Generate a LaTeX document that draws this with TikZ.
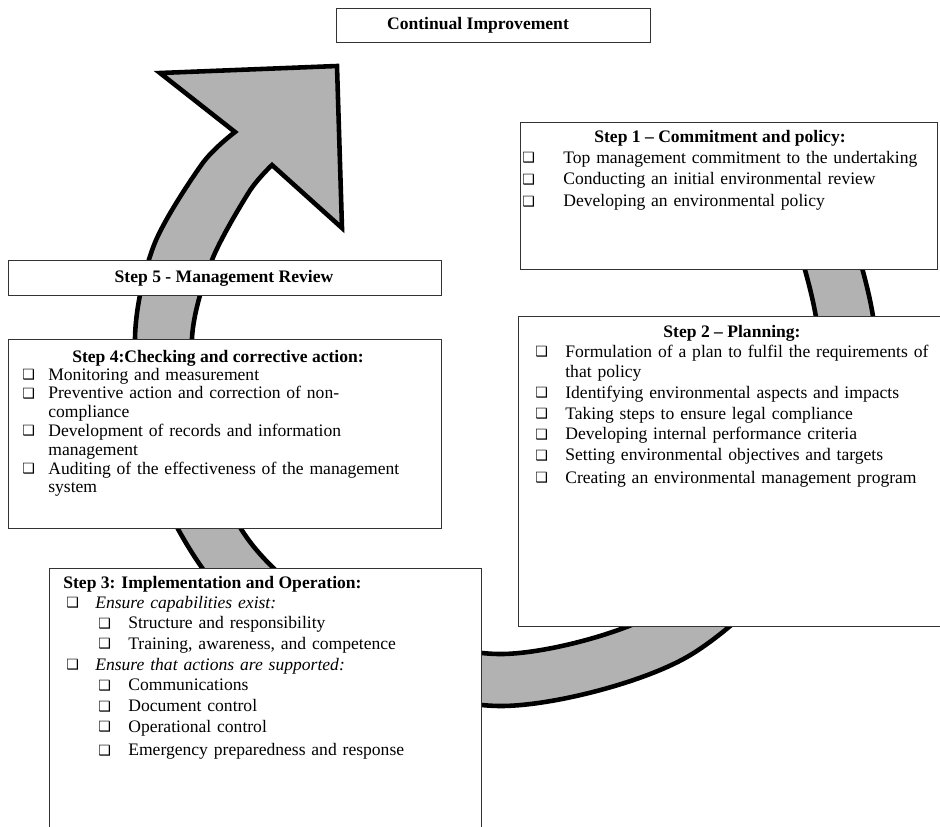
\documentclass[tikz,border=0pt]{standalone}
\usepackage{fontspec}
\setmainfont{Liberation Serif}
\newfontfamily\dejavu{DejaVu Sans}
\usepackage{tikz}
\usetikzlibrary{positioning}

\newcommand{\cbx}{{\dejavu\fontsize{8}{8}\selectfont\raisebox{0.3pt}{❑}}}
\newcommand{\ck}[1]{\makebox[#1][l]{\cbx}}

\begin{document}
\begin{tikzpicture}[x=0.02cm, y=-0.02cm,
    stepbox/.style={draw=black!80, line width=0.6pt, fill=white,
      anchor=north west, inner sep=0pt},
    steptitle/.style={anchor=base, inner sep=0pt, font=\bfseries\fontsize{10}{12}\selectfont},
    steplist/.style={anchor=base west, align=left, text width=8.2cm, inner sep=0pt},
    ringarrow/.style={draw=black, line width=2.6pt, fill=black!30, line join=miter}]

    \useasboundingbox (0,0) rectangle (940,826);
    \clip (0,0) rectangle (940,826);

    % 循环箭头 (ring arrow)
    \draw[ringarrow] plot[smooth] coordinates {(824,153) (875,338) (823,523)
        (687,657) (503,706) (316,662) (213,582) (150,467) (135,338) (154,245)
        (202,164) (235,132)}
      -- (160,73) -- (337,66) -- (342,228) -- (272,165)
      -- plot[smooth] coordinates {(272,165) (249,192) (212,260) (192,338)
        (202,447) (254,547) (342,617) (503,654) (661,611) (775,495) (818,338)
        (776,181)} -- cycle;

    % 持续改进 (Continual Improvement)
    \node[stepbox, minimum width=6.28cm, minimum height=0.68cm] at (336,8) (ci) {};
    \node[steptitle] at (478,29) (citxt) {Continual Improvement};

    % 第一步 (Step 1)
    \node[stepbox, minimum width=8.34cm, minimum height=2.94cm] at (520,122) (s1) {};
    \node[steptitle] at (720,142) (s1title) {Step 1 -- Commitment and policy:};
    \node[steplist, font=\fontsize{10}{12.5}\selectfont] at (522,163) (s1list) {%
      \ck{0.82cm}Top management commitment to the undertaking\\
      \ck{0.82cm}Conducting an initial environmental review\\
      \ck{0.82cm}Developing an environmental policy};

    % 第五步 (Step 5)
    \node[stepbox, minimum width=8.66cm, minimum height=0.70cm] at (8,260) (s5) {};
    \node[steptitle] at (224,282) (s5title) {Step 5 - Management Review};

    % 第二步 (Step 2)
    \node[stepbox, minimum width=8.84cm, minimum height=6.2cm] at (518,316) (s2) {};
    \node[steptitle] at (732,337) (s2title) {Step 2 -- Planning:};
    \node[steplist, font=\fontsize{10}{11.8}\selectfont] at (535,357) (s2list) {%
      \ck{0.6cm}Formulation of a plan to fulfil the requirements of\\
      \hspace*{0.6cm}that policy\\
      \ck{0.6cm}Identifying environmental aspects and impacts\\
      \ck{0.6cm}Taking steps to ensure legal compliance\\
      \ck{0.6cm}Developing internal performance criteria\\
      \ck{0.6cm}Setting environmental objectives and targets\\[1pt]
      \ck{0.6cm}Creating an environmental management program};

    % 第四步 (Step 4)
    \node[stepbox, minimum width=8.66cm, minimum height=3.78cm] at (8,339) (s4) {};
    \node[steptitle] at (218,362) (s4title) {Step 4:Checking and corrective action:};
    \node[steplist, font=\fontsize{10}{10.7}\selectfont] at (22,380) (s4list) {%
      \ck{0.52cm}Monitoring and measurement\\
      \ck{0.52cm}Preventive action and correction of non-\\
      \hspace*{0.52cm}compliance\\
      \ck{0.52cm}Development of records and information\\
      \hspace*{0.52cm}management\\
      \ck{0.52cm}Auditing of the effectiveness of the management\\
      \hspace*{0.52cm}system};

    % 第三步 (Step 3)
    \node[stepbox, minimum width=8.64cm, minimum height=5.64cm] at (49,568) (s3) {};
    \node[steptitle, anchor=base west] at (63,588) (s3title) {Step 3: Implementation and Operation:};
    \node[steplist, font=\fontsize{10}{11.8}\selectfont] at (66,608) (s3list) {%
      \ck{0.58cm}\textit{Ensure capabilities exist:}\\
      \hspace*{0.64cm}\ck{0.6cm}Structure and responsibility\\
      \hspace*{0.64cm}\ck{0.6cm}Training, awareness, and competence\\
      \ck{0.58cm}\textit{Ensure that actions are supported:}\\
      \hspace*{0.64cm}\ck{0.6cm}Communications\\
      \hspace*{0.64cm}\ck{0.6cm}Document control\\
      \hspace*{0.64cm}\ck{0.6cm}Operational control\\[1.5pt]
      \hspace*{0.64cm}\ck{0.6cm}Emergency preparedness and response};
\end{tikzpicture}
\end{document}
